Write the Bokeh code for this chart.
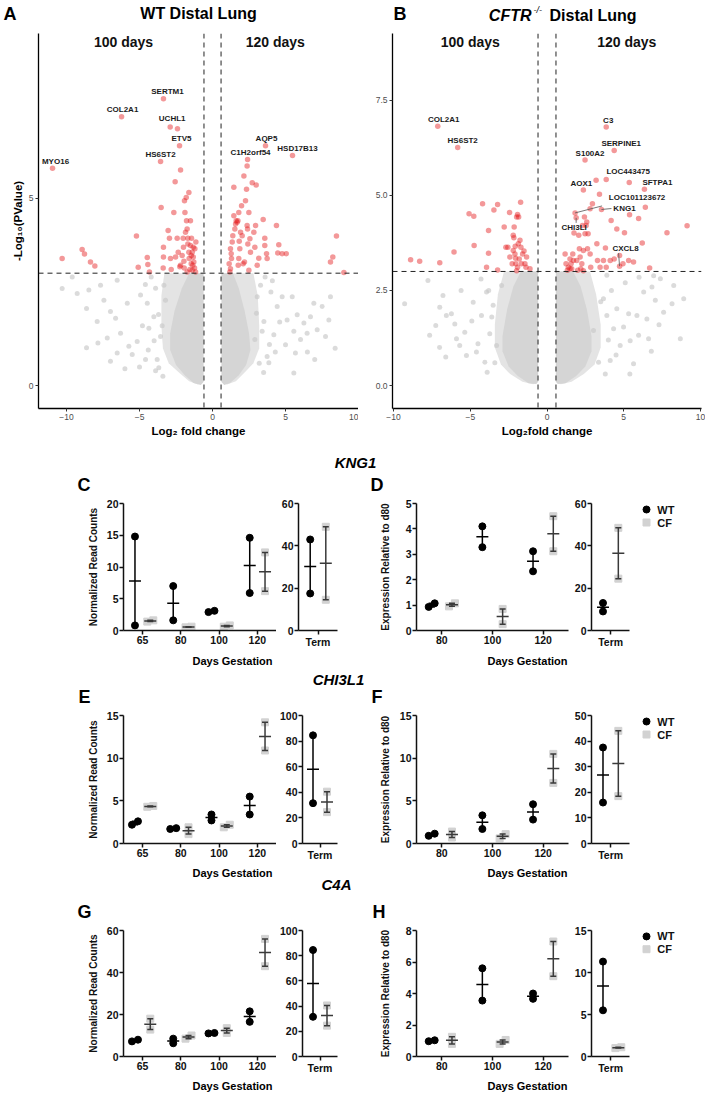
from bokeh.plotting import figure
from bokeh.layouts import column, row
from bokeh.models import (Range1d, FixedTicker, Span, ColumnDataSource, PrintfTickFormatter)
from bokeh.core.properties import value
from bokeh.embed import file_html
from bokeh.resources import INLINE

FONT = "Liberation Sans"
W = 705

# ================= Volcano data: (log2 fold change, -log10 p) =================
FC_CUT = 0.585
P_CUT = 3.0

A_sig = [(-10.30,3.39),(-8.93,3.63),(-8.77,3.51),(-8.36,3.30),(-8.06,3.19),(-5.21,3.99),(-5.09,3.16),
         (-4.47,3.42),(-4.43,3.23),(-4.32,3.03),(-3.52,4.75),(-3.36,3.69),(-3.36,3.43),(-3.38,3.14),
         (-3.04,4.14),(-2.95,3.93),(-2.83,3.10),(-2.65,4.62),(-2.56,5.44),(-2.53,3.43),(-2.42,3.93),
         (-2.35,3.56),(-2.19,5.75),(-2.19,3.21),(-2.01,3.93),(-1.99,3.69),(-1.96,3.32),(-1.94,3.14),
         (-1.92,4.93),(-1.89,4.62),(-1.80,5.02),(-1.78,4.40),(-1.74,4.18),(-1.69,3.93),(-1.69,3.78),
         (-1.62,5.15),(-1.62,3.56),(-1.60,3.39),(-1.55,3.10),(-1.51,4.40),(-1.51,3.74),(-1.46,3.25),
         (-1.44,3.93),(-1.39,3.56),(-1.39,3.08),(-1.32,3.69),(-1.32,3.43),(-1.28,3.30),(-1.23,3.14),
         (-1.21,3.65),(-1.16,3.03),(-1.14,3.83),(-1.46,3.47),(-1.74,3.03),(-1.35,3.21),(-2.24,3.17),
         (-2.88,3.39),(-2.08,3.47),(-1.85,4.09),(-2.40,6.85),
         (1.23,3.12),(1.14,3.25),(1.19,3.03),(1.28,3.52),(1.23,3.65),(1.30,3.39),(1.35,3.83),(1.39,4.00),
         (1.46,4.53),(1.53,4.18),(1.58,4.31),(1.62,4.40),(1.69,4.36),(1.74,4.40),(1.80,4.62),(1.83,3.85),
         (1.80,3.39),(1.76,3.21),(1.87,3.65),(1.92,4.09),(1.99,4.80),(2.03,4.00),(2.10,3.25),(2.15,5.59),
         (2.19,3.30),(2.26,4.93),(2.33,5.24),(2.37,4.27),(2.40,4.18),(2.42,3.78),(2.49,3.08),(2.56,3.92),
         (2.60,3.56),(2.72,5.41),(2.83,4.09),(2.90,3.69),(2.95,4.27),(2.99,5.35),(3.06,3.21),(3.17,3.40),
         (3.47,4.43),(3.58,3.93),(3.58,3.74),(3.70,3.52),(3.74,3.39),(4.38,4.27),(4.54,3.76),(4.47,3.54),
         (4.77,3.52),(5.05,3.52),(8.08,3.30),(8.24,3.43),(8.49,3.99),(9.00,3.02),(1.46,5.29),(2.37,5.86),
         (2.49,4.62)]
A_ns = [(-10.3,2.59),(-9.61,2.90),(-9.27,2.46),(-8.63,2.06),(-8.47,2.55),(-7.90,1.71),(-7.85,1.14),
        (-7.67,2.68),(-7.44,2.28),(-7.21,1.27),(-6.99,1.98),(-6.64,1.80),(-6.53,2.81),(-6.30,1.40),
        (-5.84,2.20),(-5.73,1.05),(-5.50,0.83),(-5.16,1.18),(-4.93,2.42),(-4.59,0.70),(-4.47,2.20),
        (-4.36,1.53),(-4.02,1.84),(-3.79,0.70),(-3.68,0.48),(-3.56,1.31),(-3.33,2.68),(-3.22,2.28),
        (-6.99,0.65),(-6.53,0.87),(-8.63,1.01),(-4.2,2.9),(-3.9,2.6),(-4.6,2.7),(-4.0,1.2),(-4.4,0.95),
        (-3.9,0.4),(-5.0,0.5),(-3.4,0.25),(-4.8,1.6),(-6.0,0.45),(-3.7,1.9),(-3.45,1.6),
        (3.29,2.68),(3.52,1.71),(3.74,0.78),(3.86,0.61),(4.20,1.36),(4.43,2.11),(4.77,2.37),(5.00,1.09),
        (5.11,1.75),(5.46,2.37),(5.57,1.45),(5.68,0.87),(5.80,1.89),(6.03,1.23),(6.26,1.67),(6.48,1.40),
        (6.71,1.84),(6.94,2.20),(7.17,1.49),(7.51,2.11),(7.74,1.31),(8.08,2.37),(7.97,1.75),(5.57,0.34),
        (3.01,1.93),(2.90,1.23),(3.06,2.37),(3.6,2.9),(4.0,2.5),(3.9,1.1),(4.3,0.9),
        (3.5,0.35),(4.6,1.7),(4.1,2.8),(6.5,0.9),(7.0,0.7),(8.4,1.0),(3.4,1.45),(3.2,0.6)]
# outlines of the non-significant cloud: outer = speckled zone, inner = dense core
A_cloud_outer = [
    [(-0.62,3.0),(-3.3,3.0),(-3.5,2.4),(-3.5,1.6),(-3.4,1.0),(-3.0,0.6),(-2.3,0.35),(-1.6,0.12),(-1.0,0.03),(-0.62,0.1)],
    [(0.62,3.0),(2.8,3.0),(3.1,2.4),(3.2,1.6),(3.2,1.0),(2.8,0.6),(2.2,0.35),(1.6,0.12),(1.0,0.03),(0.62,0.1)]]
A_cloud_inner = [
    [(-0.62,3.0),(-1.6,3.0),(-2.1,2.6),(-2.6,2.0),(-2.9,1.4),(-2.9,0.95),(-2.5,0.55),(-1.9,0.28),(-1.3,0.07),(-0.8,0.02),(-0.62,0.1)],
    [(0.62,3.0),(1.4,3.0),(1.8,2.6),(2.2,2.0),(2.5,1.4),(2.6,0.95),(2.3,0.55),(1.8,0.28),(1.2,0.07),(0.8,0.02),(0.62,0.1)]]
A_genes = ["SERTM1","COL2A1","UCHL1","ETV5","HS6ST2","MYO16","AQP5","C1H2orf54","HSD17B13"]
A_gene_fc = [-3.36,-6.23,-2.90,-2.26,-3.56,-10.96,3.63,2.40,5.48]
A_gene_p = [7.65,7.17,6.90,6.40,5.98,5.80,6.40,6.03,6.14]
A_gene_dx = [4,1,2,2,0,3,1,3,5]
A_gene_dy = [-7,-7,-8,-7,-7,-7,-7,-7,-7]

B_sig = [(-8.89,3.31),(-8.30,3.27),(-6.99,3.23),(-6.06,3.51),(-5.08,4.52),(-4.77,4.45),(-4.75,3.68),
         (-4.20,4.78),(-3.94,3.11),(-3.81,4.08),(-3.81,3.48),(-3.46,4.62),(-3.22,4.76),(-3.22,3.04),
         (-2.79,4.17),(-2.68,3.64),(-2.55,3.64),(-2.44,4.55),(-2.20,3.95),(-2.16,3.89),(-2.14,4.17),
         (-2.09,3.46),(-2.07,3.66),(-2.05,3.35),(-2.03,3.20),(-1.98,4.43),(-1.92,4.50),(-1.92,3.11),
         (-1.85,4.43),(-1.81,3.33),(-1.76,3.82),(-1.72,4.82),(-1.70,3.64),(-1.66,3.20),(-1.59,3.46),
         (-1.50,3.54),(-1.44,3.20),(-1.37,3.11),(-1.33,3.38),(-1.11,3.07),(-2.27,3.20),(-2.42,3.38),
         (-1.98,3.02),(-2.20,3.55),(-1.87,3.73),
         (1.18,3.46),(1.24,3.20),(1.33,3.03),(1.39,3.11),(1.50,3.33),(1.57,3.20),(1.61,3.07),(1.68,3.46),
         (1.72,3.29),(1.76,4.01),(1.94,3.29),(2.00,3.03),(2.07,3.95),(2.11,3.60),(2.16,3.38),(2.20,3.07),
         (2.27,3.20),(2.31,4.21),(2.37,3.55),(2.44,4.43),(2.48,3.99),(2.55,4.21),(2.59,4.30),(2.64,3.60),
         (2.68,3.99),(2.81,4.65),(2.85,3.11),(2.96,4.78),(3.25,3.73),(3.29,3.29),(3.42,5.03),(3.68,3.29),
         (3.81,3.62),(3.86,3.11),(4.18,4.34),(4.38,3.33),(4.55,4.12),(4.73,3.42),(4.95,3.20),(5.05,4.02),
         (5.32,3.29),(5.38,4.49),(5.64,3.25),(5.97,4.39),(6.21,3.75),(6.41,4.69),(6.69,3.09),(7.82,4.02),
         (9.13,4.20),(1.50,3.07),(2.37,3.02),(3.46,3.11),(4.12,3.29),(2.81,3.46),(3.20,5.40),(5.36,5.34)]
B_ns = [(-9.28,2.15),(-7.76,2.76),(-7.65,1.32),(-7.25,1.58),(-6.99,2.06),(-6.78,2.37),(-6.56,1.84),
        (-6.23,1.89),(-6.01,1.62),(-5.90,1.23),(-5.69,1.05),(-5.36,1.40),(-5.25,0.79),(-4.81,2.19),
        (-4.60,0.88),(-4.27,1.84),(-4.05,0.61),(-3.94,2.46),(-3.73,1.36),(-3.51,2.11),(-3.29,1.05),
        (-2.96,2.63),(-4.3,2.8),(-3.8,2.5),(-4.5,1.1),(-3.9,0.35),(-4.9,1.7),(-5.6,2.5),(-7.0,1.0),
        (-6.6,0.75),(-3.6,1.8),(-3.4,0.6),
        (3.03,1.45),(3.36,0.61),(3.68,2.28),(3.90,1.84),(4.12,0.66),(4.34,1.49),(4.55,2.02),(4.77,1.05),
        (4.99,1.54),(5.32,1.89),(5.42,1.18),(5.64,0.57),(5.86,1.84),(5.97,1.32),(6.30,2.46),(6.51,1.75),
        (6.62,1.23),(6.84,2.59),(7.06,2.24),(7.39,2.81),(7.60,1.93),(8.15,2.15),(8.26,2.63),(8.69,1.23),
        (8.91,2.28),(6.95,2.89),(3.9,2.9),(4.2,2.5),(4.0,1.2),(4.5,0.8),(3.8,0.3),(5.1,2.7),(6.0,2.85),
        (7.3,1.6),(6.8,0.9),(5.4,0.3),(3.5,2.2)]
B_cloud_outer = [
    [(-0.58,3.0),(-2.8,3.0),(-3.2,2.4),(-3.4,1.6),(-3.4,1.0),(-3.0,0.55),(-2.4,0.3),(-1.6,0.1),(-0.9,0.03),(-0.58,0.1)],
    [(0.58,3.0),(2.8,3.0),(3.2,2.4),(3.5,1.6),(3.5,1.0),(3.1,0.55),(2.4,0.3),(1.6,0.1),(0.9,0.03),(0.58,0.1)]]
B_cloud_inner = [
    [(-0.58,3.0),(-1.7,3.0),(-2.2,2.6),(-2.6,2.0),(-2.9,1.3),(-2.9,0.9),(-2.5,0.5),(-1.9,0.25),(-1.2,0.06),(-0.7,0.04),(-0.58,0.1)],
    [(0.58,3.0),(1.7,3.0),(2.2,2.6),(2.6,2.0),(2.9,1.3),(2.9,0.9),(2.5,0.5),(1.9,0.25),(1.2,0.06),(0.7,0.04),(0.58,0.1)]]
B_genes = ["COL2A1","HS6ST2","C3","SERPINE1","S100A2","LOC443475","AOX1","SFTPA1",
           "LOC101123672","KNG1","CHI3LI","CXCL8"]
B_gene_fc = [-7.12,-5.82,3.86,4.38,2.48,3.86,2.37,6.35,1.83,3.55,1.90,4.73]
B_gene_p = [6.82,6.26,6.80,6.18,5.93,5.42,5.14,5.16,4.54,4.63,4.41,3.14]
B_gene_dx = [6,5,2,7,5,22,-2,13,62,23,-2,6]
B_gene_dy = [-7,-7,-7,-7,-7,-8,-7,-7,-15,-1,10,-18]
B_leaders = {"LOC101123672": (27,-7), "KNG1": (10,-1), "CHI3LI": (0,5), "CXCL8": (-1,-13)}

# ================= Dot-plot data (two animals per group) =================
READ_GROUPS = ["65","80","100","120"]
EXPR_GROUPS = ["80","100","120"]
SERIES = ["WT","CF"]

# KNG1
C_wt = [[14.8,0.8],[7.0,1.6],[2.9,3.1],[14.6,5.9]]
C_cf = [[1.4,1.6],[0.5,0.6],[0.6,0.8],[12.3,6.2]]
C_term_wt = [43.0,17.5]; C_term_cf = [49.0,14.5]
D_wt = [[0.93,1.07],[4.1,3.28],[3.12,2.33]]
D_cf = [[0.95,1.07],[0.85,0.25],[4.5,3.12]]
D_term_wt = [13.0,9.0]; D_term_cf = [48.5,24.5]
# CHI3L1
E_wt = [[2.2,2.6],[1.7,1.8],[3.4,2.7],[5.5,3.4]]
E_cf = [[4.3,4.4],[1.9,1.1],[1.9,2.2],[14.2,10.9]]
E_term_wt = [84.5,31.5]; E_term_cf = [40.5,24.5]
F_wt = [[0.9,1.15],[3.3,1.7],[4.6,2.8]]
F_cf = [[1.4,0.7],[0.6,1.1],[10.5,7.1]]
F_term_wt = [37.5,16.0]; F_term_cf = [44.0,18.5]
# C4A
G_wt = [[7.2,8.0],[8.5,6.3],[11.0,11.2],[21.5,16.5]]
G_cf = [[18.0,12.8],[8.5,10.0],[13.5,11.2],[56.0,43.0]]
G_term_wt = [84.5,31.5]; G_term_cf = [40.5,24.5]
H_wt = [[0.97,1.03],[5.6,3.55],[4.0,3.66]]
H_cf = [[1.25,0.8],[1.05,0.8],[7.3,5.1]]
H_term_wt = [11.3,5.5]; H_term_cf = [1.0,1.1]

# y tick values of every panel
C_yt = [0,5,10,15,20];  C_term_yt = [0,20,40,60]
D_yt = [0,1,2,3,4,5];   D_term_yt = [0,20,40,60]
E_yt = [0,5,10,15];     E_term_yt = [0,20,40,60,80,100]
F_yt = [0,5,10,15];     F_term_yt = [0,10,20,30,40,50]
G_yt = [0,20,40,60];    G_term_yt = [0,20,40,60,80,100]
H_yt = [0,2,4,6,8];     H_term_yt = [0,5,10,15]

WT_COLOR = "black"
CF_COLOR = "#d2d2d2"
BAR_WT = "black"
BAR_CF = "#3a3a3a"


def base_fig(w, h, bl, br, bt, bb, xr, yr):
    p = figure(width=w, height=h, x_range=Range1d(*xr), y_range=Range1d(*yr),
               output_backend="svg", toolbar_location=None,
               min_border_left=bl, min_border_right=br, min_border_top=bt, min_border_bottom=bb)
    p.grid.visible = False
    p.outline_line_color = None
    p.background_fill_color = "white"
    p.border_fill_color = "white"
    return p


# ---------------- volcano ----------------
def volcano(w, h, bl, br, bt, bb, xr, yr, yticks, yfmt, xlabel, ylabel,
            ns, cloud_outer, cloud_inner, sig, genes, gfc, gp, gdx, gdy, leaders, day_x):
    p = base_fig(w, h, bl, br, bt, bb, xr, yr)
    for poly in cloud_outer:
        p.patch([q[0] for q in poly], [q[1] for q in poly], fill_color="#e4e4e4", line_color=None)
    for poly in cloud_inner:
        p.patch([q[0] for q in poly], [q[1] for q in poly], fill_color="#d5d5d5", line_color=None)
    p.scatter([q[0] for q in ns], [q[1] for q in ns], size=5, fill_color="#c8c8c8",
              fill_alpha=0.65, line_color=None)
    p.scatter([q[0] for q in sig], [q[1] for q in sig], size=5.5, fill_color="#e41a1c",
              fill_alpha=0.45, line_color=None)
    p.scatter(gfc, gp, size=5.5, fill_color="#e41a1c", fill_alpha=0.45, line_color=None)

    sx = (w - bl - br) / (xr[1] - xr[0])
    sy = (h - bt - bb) / (yr[1] - yr[0])
    x0, y0, x1, y1 = [], [], [], []
    for g, fx, fy in zip(genes, gfc, gp):
        if g in leaders:
            ex, ey = leaders[g]
            x0.append(fx); y0.append(fy)
            x1.append(fx + ex / sx); y1.append(fy - ey / sy)
    if x0:
        p.segment(x0, y0, x1, y1, line_color="#555555", line_width=0.8)
    src = ColumnDataSource(dict(x=gfc, y=gp, t=genes, dx=gdx, dy=gdy))
    p.text(x="x", y="y", text="t", x_offset="dx", y_offset="dy", source=src,
           text_font=value(FONT), text_font_style="bold", text_font_size="8px",
           text_align="center", text_baseline="middle", text_color="#1a1a1a")

    for loc in (-FC_CUT, FC_CUT):
        p.add_layout(Span(location=loc, dimension="height", line_color="#222222",
                          line_width=1, line_dash="5 4"))
    p.add_layout(Span(location=P_CUT, dimension="width", line_color="#222222",
                      line_width=1, line_dash="5 4"))

    p.text(x=day_x, y=[yr[1], yr[1]], text=["100 days", "120 days"], y_offset=8,
           text_font=value(FONT), text_font_style="bold", text_font_size="14px",
           text_align="center", text_baseline="middle", text_color="#111111")

    for ax in (p.xaxis[0], p.yaxis[0]):
        ax.axis_line_color = "black"
        ax.axis_line_width = 1.3
        ax.major_tick_line_color = "#333333"
        ax.major_tick_out = 3
        ax.major_tick_in = 0
        ax.minor_tick_line_color = None
        ax.major_label_text_font = FONT
        ax.major_label_text_font_size = "8.5px"
        ax.major_label_text_color = "#4d4d4d"
        ax.major_label_standoff = 2
        ax.axis_label_text_font = FONT
        ax.axis_label_text_font_style = "bold"
        ax.axis_label_text_font_size = "11.5px"
        ax.axis_label_text_color = "black"
        ax.axis_label_standoff = 2
    p.xaxis.ticker = FixedTicker(ticks=[-10, -5, 0, 5, 10])
    p.xaxis.major_label_overrides = {-10: "\u221210", -5: "\u22125", 0: "0", 5: "5", 10: "10"}
    p.xaxis.axis_label = xlabel
    p.yaxis.ticker = FixedTicker(ticks=yticks)
    if yfmt:
        p.yaxis.formatter = PrintfTickFormatter(format=yfmt)
    if ylabel:
        p.yaxis.axis_label = ylabel
    return p


# ---------------- dot plot ----------------
def dot_fig(groups, wt, cf, yticks, ylabel, lab_standoff, w, h, bl, br, bt, bb,
            extra_px=0, legend=False):
    n = len(groups)
    ytop = yticks[-1]
    frame_w = w - bl - br
    sx = (frame_w - extra_px) / n          # px per category
    xr = (-0.5, n - 0.5 + extra_px / sx)
    p = base_fig(w, h, bl, br, bt, bb, xr, (0, ytop))
    sy = (h - bt - bb) / ytop
    for vals, off, mk, col, bar in ((wt, -0.2, "circle", WT_COLOR, BAR_WT),
                                    (cf, 0.2, "square", CF_COLOR, BAR_CF)):
        px, py, bx, blo, bhi, bmean = [], [], [], [], [], []
        for i, pair in enumerate(vals):
            xc = i + off
            lo, hi = min(pair), max(pair)
            if (hi - lo) * sy < 4.5:
                px += [xc - 3.0 / sx, xc + 3.0 / sx]
            else:
                px += [xc, xc]
            py += [lo, hi]
            bx.append(xc); blo.append(lo); bhi.append(hi); bmean.append((lo + hi) / 2)
        p.scatter(px, py, marker=mk, size=7, fill_color=col, line_color=col)
        p.segment(bx, blo, bx, bhi, line_color=bar, line_width=1.5)
        p.scatter(bx + bx, blo + bhi, marker="dash", size=6, line_color=bar, line_width=1.5)
        p.scatter(bx, bmean, marker="dash", size=12, line_color=bar, line_width=1.5)

    for ax in (p.xaxis[0], p.yaxis[0]):
        ax.axis_line_color = "#111111"
        ax.axis_line_width = 1.5
        ax.major_tick_line_color = "#111111"
        ax.major_tick_line_width = 1.5
        ax.major_tick_out = 4
        ax.major_tick_in = 0
        ax.minor_tick_line_color = None
        ax.major_label_text_font = FONT
        ax.major_label_text_font_style = "bold"
        ax.major_label_text_font_size = "10.5px"
        ax.major_label_text_color = "#111111"
        ax.major_label_standoff = 1
    p.xaxis.ticker = FixedTicker(ticks=list(range(n)))
    p.xaxis.major_label_overrides = {i: g for i, g in enumerate(groups)}
    p.xaxis.bounds = (-0.5, n - 0.5)
    p.yaxis.ticker = FixedTicker(ticks=yticks)
    if ylabel:
        p.yaxis.axis_label = ylabel
        p.yaxis.axis_label_text_font = FONT
        p.yaxis.axis_label_text_font_style = "bold"
        p.yaxis.axis_label_text_font_size = "10px"
        p.yaxis.axis_label_text_color = "#111111"
        p.yaxis.axis_label_standoff = lab_standoff
    if legend:
        # key drawn in the free area right of the Term axis
        mx = n - 0.5 + 17 / sx
        tx = n - 0.5 + 28 / sx
        ly = [ytop - 6 / sy, ytop - 19 / sy]
        p.scatter([mx], [ly[0]], marker="circle", size=7, fill_color=WT_COLOR, line_color=WT_COLOR)
        p.scatter([mx], [ly[1]], marker="square", size=7, fill_color=CF_COLOR, line_color=CF_COLOR)
        p.text(x=[tx, tx], y=ly, text=SERIES, text_font=value(FONT), text_font_style="bold",
               text_font_size="11px", text_align="left", text_baseline="middle",
               text_color="#111111")
    return p


def dot_row(h, bt, bb, rc_wt, rc_cf, rc_yt, trc_wt, trc_cf, trc_yt,
            ex_wt, ex_cf, ex_yt, tex_wt, tex_cf, tex_yt, ex_standoff):
    f1 = dot_fig(READ_GROUPS, rc_wt, rc_cf, rc_yt, "Normalized Read Counts", 5,
                 276, h, 123, 0, bt, bb)
    f2 = dot_fig(["Term"], [trc_wt], [trc_cf], trc_yt, None, 0, 67, h, 22, 6, bt, bb)
    f3 = dot_fig(EXPR_GROUPS, ex_wt, ex_cf, ex_yt, "Expression Relative to d80", ex_standoff,
                 228, h, 73, 3, bt, bb)
    f4 = dot_fig(["Term"], [tex_wt], [tex_cf], tex_yt, None, 0, 134, h, 18, 2, bt, bb,
                 extra_px=75, legend=True)
    return row(f1, f2, f3, f4)


def strip(h, items):
    s = figure(width=W, height=h, x_range=Range1d(0, W), y_range=Range1d(h, 0),
               x_axis_type=None, y_axis_type=None, output_backend="svg",
               toolbar_location=None, min_border=0)
    s.outline_line_color = None
    for (x, y, txt, size, style, align) in items:
        s.text(x=[x], y=[y], text=[txt], text_font=value(FONT), text_font_size=size,
               text_font_style=style, text_align=align, text_baseline="middle",
               text_color="black")
    return s


# ---------------- assemble ----------------
top = strip(31, [
    (3, 13, "A", "18px", "bold", "left"),
    (198, 13, "WT Distal Lung", "16px", "bold", "center"),
    (393, 13, "B", "18px", "bold", "left"),
    (531, 15, "CFTR", "16px", "bold italic", "right"),
    (533, 9, "-/-", "9px", "italic", "left"),
    (549, 15, "Distal Lung", "16px", "bold", "left"),
])

pA = volcano(358, 411, 38, 0, 2, 31, (-11.92, 10.0), (-0.608, 9.39), [0, 5], None,
             "Log\u2082 fold change", "-Log\u2081\u2080(PValue)",
             A_ns, A_cloud_outer, A_cloud_inner, A_sig,
             A_genes, A_gene_fc, A_gene_p, A_gene_dx, A_gene_dy, {}, [-6.1, 4.3])
pB = volcano(347, 411, 34, 4, 2, 34, (-10.07, 10.07), (-0.605, 9.26), [0, 2.5, 5, 7.5], "%.1f",
             "Log\u2082fold change", None,
             B_ns, B_cloud_outer, B_cloud_inner, B_sig,
             B_genes, B_gene_fc, B_gene_p, B_gene_dx, B_gene_dy, B_leaders, [-5.0, 5.2])

s1 = strip(53, [
    (355, 20, "KNG1", "15px", "bold italic", "center"),
    (77, 42, "C", "18px", "bold", "left"),
    (370, 42, "D", "18px", "bold", "left"),
])
r2 = dot_row(156, 8, 21, C_wt, C_cf, C_yt, C_term_wt, C_term_cf, C_term_yt,
             D_wt, D_cf, D_yt, D_term_wt, D_term_cf, D_term_yt, 12)
s2 = strip(56, [
    (232, 9, "Days Gestation", "11px", "bold", "center"),
    (527, 9, "Days Gestation", "11px", "bold", "center"),
    (338, 28, "CHI3L1", "15px", "bold italic", "center"),
    (78, 45, "E", "18px", "bold", "left"),
    (371, 45, "F", "18px", "bold", "left"),
])
r3 = dot_row(158, 8, 22, E_wt, E_cf, E_yt, E_term_wt, E_term_cf, E_term_yt,
             F_wt, F_cf, F_yt, F_term_wt, F_term_cf, F_term_yt, 6)
s3 = strip(57, [
    (232, 7, "Days Gestation", "11px", "bold", "center"),
    (527, 7, "Days Gestation", "11px", "bold", "center"),
    (336, 19, "C4A", "15px", "bold italic", "center"),
    (77, 46, "G", "18px", "bold", "left"),
    (372, 46, "H", "18px", "bold", "left"),
])
r4 = dot_row(154, 8, 18, G_wt, G_cf, G_yt, G_term_wt, G_term_cf, G_term_yt,
             H_wt, H_cf, H_yt, H_term_wt, H_term_cf, H_term_yt, 12)
s4 = strip(17, [
    (232, 9, "Days Gestation", "11px", "bold", "center"),
    (527, 9, "Days Gestation", "11px", "bold", "center"),
])

layout = column(top, row(pA, pB), s1, r2, s2, r3, s3, r4, s4)

open("out.html", "w").write(file_html(layout, INLINE))
